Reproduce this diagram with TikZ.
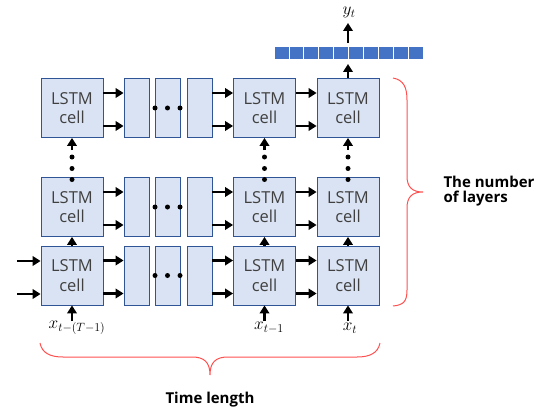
\documentclass[tikz,border=0pt]{standalone}
\usepackage{fontspec}
\setmainfont{Open Sans}
\usetikzlibrary{arrows.meta}
\definecolor{cellfill}{HTML}{DAE3F3}
\definecolor{celldraw}{HTML}{2F5597}
\definecolor{barfill}{HTML}{4472C4}
\definecolor{bracered}{HTML}{FF5050}
\definecolor{txt}{HTML}{404040}
\tikzset{
  cell/.style={draw=celldraw, fill=cellfill, line width=0.8pt, minimum width=62pt, minimum height=59pt, inner sep=0pt, align=center, text=txt, font=\fontsize{16.5}{19.5}\selectfont},
  slim/.style={draw=celldraw, fill=cellfill, line width=0.8pt, minimum width=25pt, minimum height=59pt, inner sep=0pt},
  arr/.style={-{Triangle[length=8pt,width=9.5pt]}, line width=2.8pt},
  dotf/.style={fill=black, circle, inner sep=0pt, minimum size=5pt},
  barsq/.style={draw=white, fill=barfill, line width=0.8pt, minimum width=14.9pt, minimum height=12.5pt, inner sep=0pt},
  brace/.style={draw=bracered, line width=1pt},
  lab/.style={font=\bfseries\fontsize{15}{15}\selectfont, text=black},
  mlab/.style={font=\fontsize{18}{18}\selectfont, inner sep=0pt}
}
\begin{document}
\begin{tikzpicture}[x=1pt,y=-1pt]
\useasboundingbox (0,0) rectangle (544,412);
% rows: centres 108, 207, 275.5
\foreach \r/\y in {1/108,2/207,3/275.5}{
  \node[cell] (A\r) at (72,\y) {LSTM\\cell};
  \node[slim] (P\r) at (136.5,\y) {};
  \node[slim] (Q\r) at (167.5,\y) {};
  \node[slim] (R\r) at (199.5,\y) {};
  \node[cell] (B\r) at (264.5,\y) {LSTM\\cell};
  \node[cell] (C\r) at (348,\y) {LSTM\\cell};
  \foreach \s in {15pt,-18pt}{
    \draw[arr] ([yshift=\s]A\r.east) -- ([yshift=\s]P\r.west);
    \draw[arr] ([yshift=\s]R\r.east) -- ([yshift=\s]B\r.west);
    \draw[arr] ([yshift=\s]B\r.east) -- ([yshift=\s]C\r.west);
  }
  \node[dotf] at (155,\y) {};
  \node[dotf] at (167.5,\y) {};
  \node[dotf] at (180,\y) {};
}
% left inputs
\coordinate (in1) at (17,261);
\coordinate (in2) at (17,294);
\draw[arr] (in1) -- (in1 -| A3.west);
\draw[arr] (in2) -- (in2 -| A3.west);
% vertical connections
\foreach \c/\x in {A/72,B/264.5,C/348}{
  \draw[arr] (\c3.north) -- (\c2.south);
  \coordinate (v\c) at (\x,150);
  \draw[arr] (v\c) -- (\c1.south);
  \node[dotf] at (\x,157) {};
  \node[dotf] at (\x,168.5) {};
  \node[dotf] at (\x,179.5) {};
  \coordinate (x\c) at (\x,321);
  \draw[arr] (x\c) -- (\c3.south);
}
\node[mlab] (lA) at (77,328) {$x_{t-(T-1)}$};
\node[mlab] (lB) at (269,328) {$x_{t-1}$};
\node[mlab] (lC) at (350,328) {$x_t$};
% output
\coordinate (o1) at (348,64);
\coordinate (o2) at (348,43);
\coordinate (o3) at (348,23);
\draw[arr] (C1.north) -- (o1);
\draw[arr] (o2) -- (o3);
\node[mlab] (yt) at (349,12.5) {$y_t$};
\foreach \i in {0,...,9}{
  \node[barsq] (s\i) at ({274+7.45+14.9*\i},53) {};
}
% braces
\draw[brace] (393,78) .. controls (404,80) and (407,88) .. (407,100) -- (407,176)
  .. controls (407,187) and (412,192) .. (423,192)
  .. controls (412,192) and (407,197) .. (407,208) -- (407,290)
  .. controls (407,301) and (404,305) .. (393,306);
\node[lab, anchor=west, align=left] (layers) at (440,191) {The number\\of layers};
\draw[brace] (40,343) .. controls (42,353) and (50,357) .. (63,357) -- (192,357)
  .. controls (204,357) and (210,362) .. (210,375)
  .. controls (210,362) and (216,357) .. (228,357) -- (357,357)
  .. controls (370,357) and (378,353) .. (380,343);
\node[lab] (tl) at (210,400) {Time length};
\end{tikzpicture}
\end{document}
